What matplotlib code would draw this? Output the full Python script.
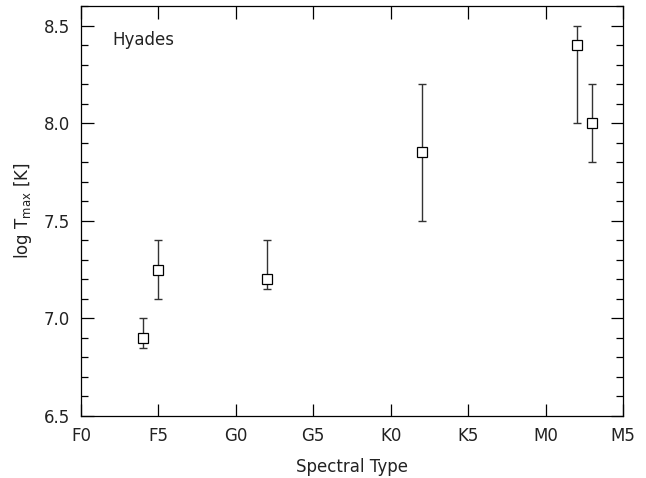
import matplotlib
matplotlib.use("Agg")
import matplotlib.pyplot as plt
from matplotlib.ticker import MultipleLocator, FormatStrFormatter

plt.rcParams['font.family'] = ['DejaVu Sans']
plt.rcParams['mathtext.default'] = 'regular'

# spectral type index: F0=0, G0=10, K0=20, M0=30
spec_pos = [4, 5, 12, 22, 32, 33]
log_tmax = [6.90, 7.25, 7.20, 7.85, 8.40, 8.00]
err_low = [6.85, 7.10, 7.15, 7.50, 8.00, 7.80]
err_high = [7.00, 7.40, 7.40, 8.20, 8.50, 8.20]

tick_pos = [0, 5, 10, 15, 20, 25, 30, 35]
tick_labels = ['F0', 'F5', 'G0', 'G5', 'K0', 'K5', 'M0', 'M5']

yerr = [[v - lo for v, lo in zip(log_tmax, err_low)],
        [hi - v for v, hi in zip(log_tmax, err_high)]]

fig = plt.figure(figsize=(6.46, 4.78), dpi=100)
ax = fig.add_axes([0.1254, 0.1297, 0.839, 0.8577])

ax.errorbar(spec_pos, log_tmax, yerr=yerr, fmt='none', ecolor='#333333',
            elinewidth=1.0, capsize=3, capthick=1.0)
ax.plot(spec_pos, log_tmax, 's', ms=6.5, mfc='white', mec='black', mew=0.9)

ax.set_xlim(0, 35)
ax.set_ylim(6.5, 8.6)
ax.set_xticks(tick_pos)
ax.set_xticklabels(tick_labels)
ax.yaxis.set_major_locator(MultipleLocator(0.5))
ax.yaxis.set_minor_locator(MultipleLocator(0.1))
ax.yaxis.set_major_formatter(FormatStrFormatter('%.1f'))

ax.tick_params(which='both', direction='in', top=True, right=True,
               labelsize=12, width=0.9, labelcolor='#222222')
ax.tick_params(which='major', length=9, pad=8)
ax.tick_params(which='minor', length=5)

ax.set_xlabel('Spectral Type', fontsize=12, labelpad=9, color='#222222')
ax.set_ylabel('log T$_{max}$ [K]', fontsize=12, labelpad=7, color='#222222')
ax.text(0.057, 0.917, 'Hyades', transform=ax.transAxes, fontsize=12,
        va='center', ha='left', color='#222222')

for s in ax.spines.values():
    s.set_linewidth(0.9)

fig.savefig('out.png', dpi=100)
